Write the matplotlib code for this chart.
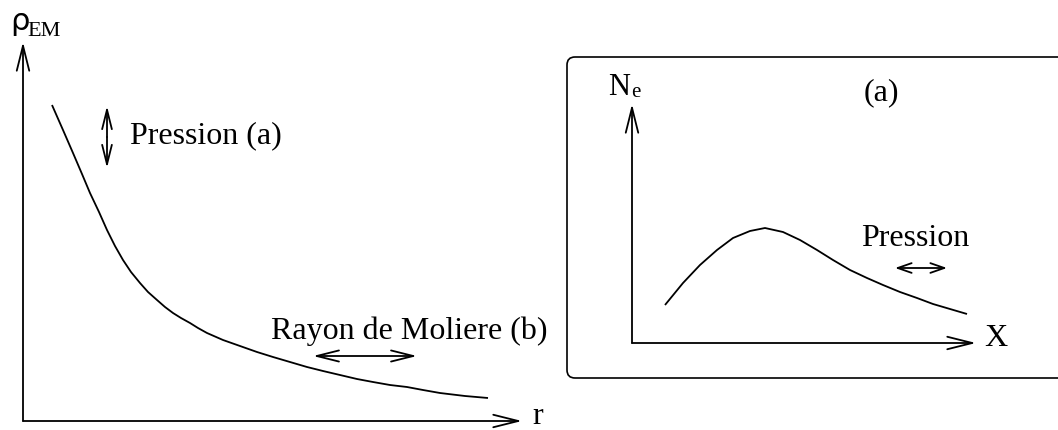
import numpy as np
import matplotlib
matplotlib.use('Agg')
import matplotlib.pyplot as plt
from matplotlib.patches import FancyBboxPatch

# shower profile sketches (pixel units, y downwards)
left_x = [52, 63, 73, 82, 90, 99, 107, 115, 123, 131, 140, 148, 157, 165, 173, 181, 190,
	198, 207, 223, 240, 257, 273, 290, 307, 323, 340, 357, 373, 390, 407, 423, 440, 465, 488]
left_y = [105, 130, 153, 174, 193, 212, 230, 246, 260, 272, 283, 292, 300, 307, 313, 318, 323,
	328, 333, 340, 346, 352, 357, 362, 367, 371, 375, 379, 382, 385, 387, 390, 393, 396, 398]

right_x = [665, 683, 700, 717, 733, 750, 765, 783, 800, 817, 833, 850, 867, 883, 900, 917, 933, 950, 967]
right_y = [305, 283, 265, 250, 238, 231, 228, 232, 240, 250, 260, 270, 278, 285, 292, 298, 304, 309, 314]

serif = 'Liberation Serif'
FS = 23
LW = 1.3
AX_HEAD = '->,head_length=1.8,head_width=0.45'


def arrow(ax, x0, y0, x1, y1, style=AX_HEAD, lw=LW):
	ax.annotate('', xy=(x1, y1), xytext=(x0, y0),
		arrowprops=dict(arrowstyle=style, lw=lw, color='black',
			shrinkA=0, shrinkB=0))


def main():
	fig = plt.figure(figsize=(10.58, 4.30), dpi=100)
	ax = fig.add_axes([0, 0, 1, 1])
	ax.set_xlim(0, 1058)
	ax.set_ylim(430, 0)
	ax.axis('off')

	# Left panel
	arrow(ax, 23, 421, 23, 42)
	arrow(ax, 23, 421, 522, 421)
	ax.plot(left_x, left_y, color='black', lw=LW, solid_capstyle='butt')
	ax.text(10, 30, 'ρ', fontsize=22, family='DejaVu Sans', ha='left', va='baseline')
	ax.text(27, 36, 'EM', fontsize=16, family=serif, ha='left', va='baseline')
	ax.text(532, 416, 'r', fontsize=FS, family=serif, ha='left', va='center')

	arrow(ax, 107, 137, 107, 106, style='->,head_length=1.4,head_width=0.35')
	arrow(ax, 107, 137, 107, 168, style='->,head_length=1.4,head_width=0.35')
	ax.text(130, 136, 'Pression (a)', fontsize=FS, family=serif, ha='left', va='center')

	arrow(ax, 313, 356, 417, 356, style='<->,head_length=1.6,head_width=0.4')
	ax.text(271, 331, 'Rayon de Moliere (b)', fontsize=FS, family=serif, ha='left', va='center')

	# Right panel (inset box)
	box = FancyBboxPatch((567, 57), 520, 321, boxstyle='round,pad=0,rounding_size=8',
		fc='white', ec='black', lw=1.2)
	ax.add_patch(box)
	arrow(ax, 632, 343, 632, 104)
	arrow(ax, 632, 343, 976, 343)
	ax.plot(right_x, right_y, color='black', lw=LW, solid_capstyle='butt')
	ax.text(608, 95, 'N', fontsize=22, family=serif, ha='left', va='baseline')
	ax.text(631, 97, 'e', fontsize=15, family=serif, ha='left', va='baseline')
	ax.text(984, 338, 'X', fontsize=FS, family=serif, ha='left', va='center')
	ax.text(864, 93, '(a)', fontsize=FS, family=serif, ha='left', va='center')
	ax.text(861, 238, 'Pression', fontsize=FS, family=serif, ha='left', va='center')
	arrow(ax, 895, 268, 947, 268, style='<->,head_length=1.0,head_width=0.35')

	fig.savefig('out.png', dpi=100)


if __name__ == '__main__':
	main()
